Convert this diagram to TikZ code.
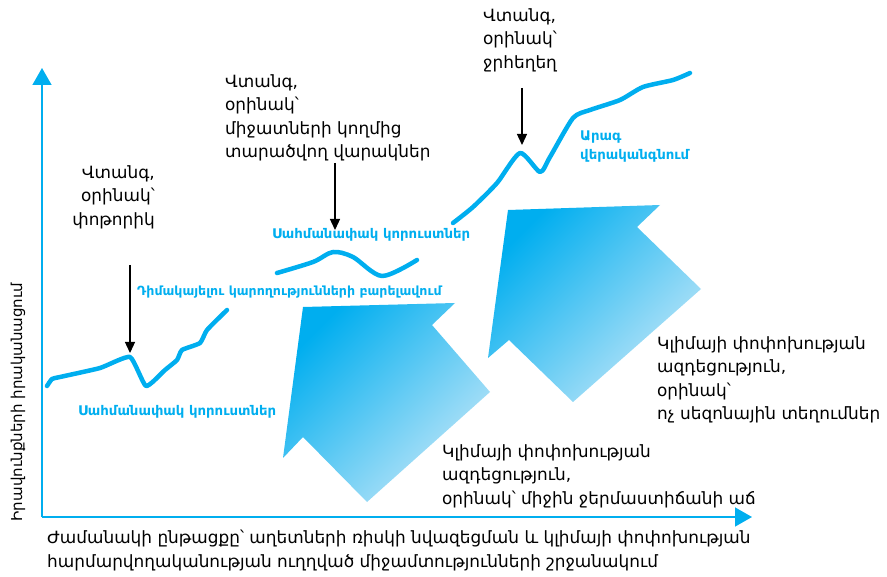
\documentclass[tikz,border=0pt]{standalone}
\usepackage{fontspec}
\setmainfont{DejaVu Sans}
\usetikzlibrary{arrows.meta}
\definecolor{hazard}{HTML}{00AEEF}
\definecolor{hazardlight}{HTML}{BFE6F8}

\begin{document}
\begin{tikzpicture}[x=1pt,y=-1pt,
  axis/.style={hazard,line width=1.6pt,-{Triangle[width=19pt,length=17pt]}},
  trend/.style={hazard,line width=4.5pt,line cap=round,line join=round},
  pointer/.style={line width=1.3pt,-{Triangle[width=10pt,length=11pt]}},
  note/.style={font=\fontsize{16.9}{23.5}\selectfont,inner sep=0pt},
  tag/.style={hazard,font=\bfseries\fontsize{13.3}{19}\selectfont,inner sep=0pt,align=left},
  bigarrow/.style={shading=axis,top color=hazard,bottom color=hazardlight,shading angle=45}]
 \useasboundingbox (0,0) rectangle (887,577);

 % big arrows, behind everything
 \shade[bigarrow] (303,307) -- (455,303) -- (432,325) -- (490,392)
   -- (367,502) -- (303,437) -- (283,458) -- cycle;
 \shade[bigarrow] (508,210) -- (660,205) -- (637,227) -- (701,289)
   -- (573,402) -- (509,340) -- (488,358) -- cycle;

 % axes
 \coordinate (origin) at (42,517);
 \coordinate (ytip) at (42,68);
 \coordinate (xtip) at (752,517);
 \draw[axis] (origin) -- (ytip);
 \draw[axis] (origin) -- (xtip);

 % trend lines
 \draw[trend] plot[smooth,tension=0.3] coordinates {(47,386) (52,379) (60,377) (100,368)
   (130,357) (146,386) (165,370) (177,360) (182,350) (200,343) (207,330) (227,310)};
 \draw[trend] plot[smooth,tension=0.5] coordinates {(277,273) (313,262) (333,252)
   (353,257) (382,276) (417,260)};
 \draw[trend] plot[smooth,tension=0.4] coordinates {(453,223) (473,207) (497,183)
   (520,153) (540,172) (550,157) (573,118) (590,110) (620,100) (643,87) (673,80) (690,73)};

 % pointers
 \foreach \n/\x/\ya/\yb in {1/130/265/353,2/335/163/230,3/522/88/145}
   {\coordinate (from\n) at (\x,\ya);
    \coordinate (to\n) at (\x,\yb);
    \draw[pointer] (from\n) -- (to\n);}

 % labels
 \node[note,align=right,anchor=north east] (storm) at (155,165) {Վտանգ,\\օրինակ՝\\փոթորիկ};
 \node[note,align=left,anchor=north west] (vector) at (225,74)
   {Վտանգ,\\օրինակ՝\\միջատների կողմից\\տարածվող վարակներ};
 \node[note,align=left,anchor=north west] (flood) at (483,8) {Վտանգ,\\օրինակ՝\\ջրհեղեղ};
 \node[note,align=left,anchor=north west] (rain) at (657,336)
   {Կլիմայի փոփոխության\\ազդեցություն,\\օրինակ՝\\ոչ սեզոնային տեղումներ};
 \node[note,align=left,anchor=north west] (heat) at (442,444)
   {Կլիմայի փոփոխության\\ազդեցություն,\\օրինակ՝ միջին ջերմաստիճանի աճ};
 \node[note,align=left,anchor=north west] (time) at (47,530)
   {Ժամանակի ընթացքը՝ աղետների ռիսկի նվազեցման և կլիմայի փոփոխության\\
    հարմարվողականության ուղղված միջամտությունների շրջանակում};
 \node[note,font=\fontsize{15}{18}\selectfont,rotate=90] (rights) at (18,402) {Իրավունքների իրականացում};

 \node[tag,anchor=north west] (loss1) at (78,405) {Սահմանափակ կորուստներ};
 \node[tag,font=\bfseries\fontsize{12.6}{19}\selectfont,anchor=north west] (cope) at (137,286)
   {Դիմակայելու կարողությունների բարելավում};
 \node[tag,anchor=north west] (loss2) at (272,228) {Սահմանափակ կորուստներ};
 \node[tag,anchor=north west] (recover) at (580,131) {Արագ\\վերականգնում};
\end{tikzpicture}
\end{document}
